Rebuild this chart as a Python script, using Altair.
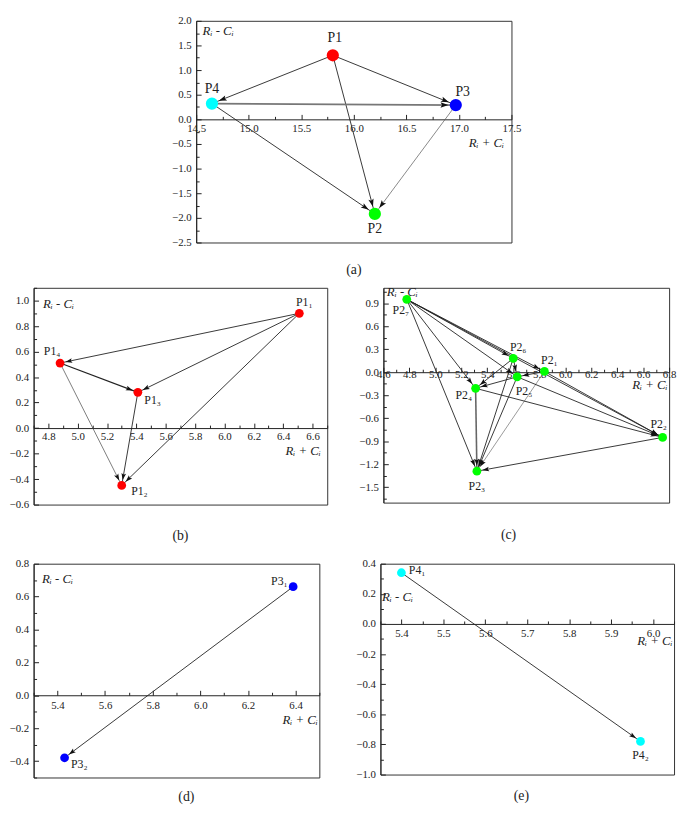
import math
import altair as alt
import pandas as pd

FONT = "Liberation Serif"
INK = "#222222"

# ---------------- data ----------------
# panel (a)
a_names = ["P1", "P2", "P3", "P4"]
a_x = [15.80, 16.20, 16.97, 14.65]
a_y = [1.30, -1.92, 0.29, 0.32]
a_col = ["#ff0000", "#00ff00", "#0000ff", "#00ffff"]
a_dx = [2, 0, 7, 0]
a_dy = [-17, 15, -13, -15]
a_edges = [("P1", "P4"), ("P1", "P3"), ("P1", "P2"), ("P4", "P3"), ("P4", "P2"), ("P3", "P2")]
a_edge_ink = ["#222222", "#222222", "#222222", "#777777", "#222222", "#555555"]
a_edge_w = [0.9, 0.9, 0.9, 1.8, 0.9, 0.7]

# panel (b)
b_names = ["P1₁", "P1₂", "P1₃", "P1₄"]
b_x = [6.51, 5.30, 5.41, 4.88]
b_y = [0.90, -0.45, 0.28, 0.51]
b_col = ["#ff0000"] * 4
b_dx = [5, 18, 15, -8]
b_dy = [-11, 6, 8, -12]
b_edges = [("P1₁", "P1₄"), ("P1₁", "P1₃"), ("P1₁", "P1₂"), ("P1₄", "P1₃"), ("P1₄", "P1₂"), ("P1₃", "P1₂")]
b_edge_ink = ["#222222", "#222222", "#222222", "#222222", "#444444", "#222222"]
b_edge_w = [0.9, 0.9, 0.9, 1.2, 0.7, 0.9]

# panel (c)
c_names = ["P2₁", "P2₂", "P2₃", "P2₄", "P2₅", "P2₆", "P2₇"]
c_x = [5.84, 6.75, 5.32, 5.31, 5.63, 5.60, 4.78]
c_y = [0.01, -0.85, -1.29, -0.21, -0.06, 0.18, 0.95]
c_col = ["#00ff00"] * 7
c_dx = [5, -4, 0, -12, 7, 5, -6]
c_dy = [-12, -14, 15, 7, 14, -11, 11]
c_edges = [("P2₇", "P2₆"), ("P2₇", "P2₁"), ("P2₇", "P2₅"), ("P2₇", "P2₄"), ("P2₇", "P2₃"), ("P2₇", "P2₂"),
           ("P2₆", "P2₅"), ("P2₆", "P2₄"), ("P2₆", "P2₃"),
           ("P2₁", "P2₅"), ("P2₁", "P2₃"), ("P2₁", "P2₂"),
           ("P2₅", "P2₄"), ("P2₅", "P2₃"), ("P2₅", "P2₂"),
           ("P2₄", "P2₃"), ("P2₄", "P2₂"),
           ("P2₂", "P2₃")]
c_edge_ink = ["#222222"] * 10 + ["#555555"] + ["#222222"] * 4 + ["#666666"] + ["#222222"] * 2
c_edge_w = [0.9] * 10 + [0.6] + [0.9] * 4 + [1.6] + [0.9] * 2

# panel (d)
d_names = ["P3₁", "P3₂"]
d_x = [6.39, 5.43]
d_y = [0.66, -0.38]
d_col = ["#0000ff"] * 2
d_dx = [-14, 15]
d_dy = [-6, 6]
d_edges = [("P3₁", "P3₂")]
d_edge_ink = ["#222222"]
d_edge_w = [0.9]

# panel (e)
e_names = ["P4₁", "P4₂"]
e_x = [5.40, 5.97]
e_y = [0.34, -0.78]
e_col = ["#00ffff"] * 2
e_dx = [16, 0]
e_dy = [-3, 14]
e_edges = [("P4₁", "P4₂")]
e_edge_ink = ["#222222"]
e_edge_w = [0.9]

ARROW = "M0,0 L-0.34,1 L0,0.8 L0.34,1 Z"


def ticks(lo, hi, step):
    n = int(round((hi - lo) / step))
    return [round(lo + i * step, 3) for i in range(n + 1)]


def js_list(vals):
    return "[" + ",".join(repr(v) for v in vals) + "]"


def panel(names, xs, ys, cols, dxs, dys, edges, inks, widths, xdom, ydom, W, H,
          xmaj, xminor, ymaj, yminor, r, ahead, ptsize, lblsize,
          xt, yt, caption, cap_dx, cap_off, xlab_pad=-8):
    sx = W / (xdom[1] - xdom[0])
    sy = H / (ydom[1] - ydom[0])
    pos = {n: (x, y) for n, x, y in zip(names, xs, ys)}

    erows, hrows = [], []
    for (s, t), ink, w in zip(edges, inks, widths):
        (x1, y1), (x2, y2) = pos[s], pos[t]
        dxp = (x2 - x1) * sx
        dyp = -(y2 - y1) * sy
        L = math.hypot(dxp, dyp)
        ux, uy = dxp / L, dyp / L
        tipx = x2 - ux * (r + 0.5) / sx
        tipy = y2 + uy * (r + 0.5) / sy
        ang = math.degrees(math.atan2(ux, -uy)) % 360
        erows.append({"x": x1, "y": y1, "x2": x2, "y2": y2, "ink": ink, "w": w})
        hrows.append({"x": tipx, "y": tipy, "angle": ang})
    edf = pd.DataFrame(erows)
    hdf = pd.DataFrame(hrows)
    pdf = pd.DataFrame({"x": xs, "y": ys, "color": cols})
    ldf = pd.DataFrame({"x": [x + dx / sx for x, dx in zip(xs, dxs)],
                        "y": [y - dy / sy for y, dy in zip(ys, dys)],
                        "label": names})

    zero_px = H * (ydom[1] - 0.0) / (ydom[1] - ydom[0])
    xv = sorted(set(xmaj + xminor))
    yv = sorted(set(ymaj + yminor))
    xm, ym = js_list(xmaj), js_list(ymaj)

    common = dict(grid=False, domainColor=INK, tickColor=INK, labelColor=INK,
                  labelFont=FONT, labelFontSize=11, labelOverlap=False, labelFlush=False,
                  titleFont=FONT, titleFontSize=13, titleFontStyle="italic",
                  titleFontWeight="normal", titleColor=INK, titleAngle=0,
                  titleBaseline="middle", tickWidth=1, domainWidth=1)

    xaxis = alt.Axis(orient="top", offset=-zero_px, values=xv,
                     labelExpr=f"indexof({xm}, datum.value) >= 0 ? format(datum.value, '.1f') : ''",
                     tickSize={"condition": {"test": f"indexof({xm}, datum.value) >= 0", "value": 5}, "value": 3},
                     labelBaseline="top", labelPadding=xlab_pad, labelAlign="center",
                     title="Rᵢ + Cᵢ", titleX=xt[0], titleY=xt[1], titleAlign="right",
                     **common)
    yaxis = alt.Axis(orient="right", offset=-W, values=yv,
                     labelExpr=f"indexof({ym}, datum.value) >= 0 ? format(datum.value, '.1f') : ''",
                     tickSize={"condition": {"test": f"indexof({ym}, datum.value) >= 0", "value": 5}, "value": 3},
                     labelAlign="right", labelBaseline="middle", labelPadding=-10,
                     title="Rᵢ - Cᵢ", titleX=yt[0], titleY=yt[1], titleAlign="left",
                     **common)

    X = alt.X("x:Q", scale=alt.Scale(domain=xdom, nice=False, zero=False), axis=xaxis)
    Y = alt.Y("y:Q", scale=alt.Scale(domain=ydom, nice=False, zero=False), axis=yaxis)

    rules = alt.Chart(edf).mark_rule().encode(
        x=X, y=Y, x2="x2:Q", y2="y2:Q",
        color=alt.Color("ink:N", scale=None),
        strokeWidth=alt.StrokeWidth("w:Q", scale=None))
    heads = alt.Chart(hdf).mark_point(shape=ARROW, filled=True, color="#111111", opacity=1,
                                      size=ahead, strokeWidth=0).encode(
        x=X, y=Y, angle=alt.Angle("angle:Q", scale=None))
    pts = alt.Chart(pdf).mark_circle(size=ptsize, opacity=1).encode(
        x=X, y=Y, color=alt.Color("color:N", scale=None))
    lbls = alt.Chart(ldf).mark_text(font=FONT, fontSize=lblsize, color=INK, baseline="middle",
                                    align="center").encode(x=X, y=Y, text="label:N")

    return alt.layer(rules, heads, pts, lbls).properties(
        width=W, height=H,
        title=alt.TitleParams(caption, orient="bottom", frame="group", anchor="middle",
                              font=FONT, fontSize=14, fontWeight="normal", color=INK,
                              dx=cap_dx, offset=cap_off))


pa = panel(a_names, a_x, a_y, a_col, a_dx, a_dy, a_edges, a_edge_ink, a_edge_w,
           [14.5, 17.5], [-2.5, 2.0], 320, 225,
           ticks(14.5, 17.5, 0.5), ticks(14.75, 17.25, 0.5), ticks(-2.5, 2.0, 0.5), ticks(-2.25, 1.75, 0.5),
           7, 256, 154, 14, (312, 24), (6, 10), "(a)", 0, 16)
pb = panel(b_names, b_x, b_y, b_col, b_dx, b_dy, b_edges, b_edge_ink, b_edge_w,
           [4.7, 6.7], [-0.6, 1.1], 298, 220,
           ticks(4.8, 6.6, 0.2), ticks(4.7, 6.7, 0.2), ticks(-0.6, 1.0, 0.2), ticks(-0.5, 1.1, 0.2),
           5, 196, 79, 12, (291, 23), (9, 16), "(b)", 0, 20)
pc = panel(c_names, c_x, c_y, c_col, c_dx, c_dy, c_edges, c_edge_ink, c_edge_w,
           [4.6, 6.8], [-1.7, 1.1], 290, 218,
           ticks(4.6, 6.8, 0.2), ticks(4.7, 6.7, 0.2), ticks(-1.5, 0.9, 0.3), ticks(-1.65, 1.05, 0.3),
           5, 196, 79, 12, (288, 13), (3, 4), "(c)", -18, 25, xlab_pad=-1)
pd_ = panel(d_names, d_x, d_y, d_col, d_dx, d_dy, d_edges, d_edge_ink, d_edge_w,
            [5.3, 6.5], [-0.5, 0.8], 290, 217,
            ticks(5.4, 6.4, 0.2), ticks(5.3, 6.5, 0.2), ticks(-0.4, 0.8, 0.2), ticks(-0.5, 0.7, 0.2),
            5, 196, 79, 12, (288, 25), (8, 15), "(d)", 10, 8, xlab_pad=-9)
pe = panel(e_names, e_x, e_y, e_col, e_dx, e_dy, e_edges, e_edge_ink, e_edge_w,
           [5.35, 6.05], [-1.0, 0.4], 298, 214,
           ticks(5.4, 6.0, 0.1), ticks(5.35, 6.05, 0.1), ticks(-1.0, 0.4, 0.2), ticks(-0.9, 0.3, 0.2),
           5, 196, 79, 12, (296, 17), (1, 33), "(e)", -6, 10, xlab_pad=-9)


def spacer(w):
    return alt.Chart(pd.DataFrame({"x": [0]})).mark_point(opacity=0).properties(
        width=w, height=10, view=alt.ViewBackground(strokeOpacity=0))


row1 = alt.hconcat(spacer(139), pa, spacing=0)
row2 = alt.hconcat(pb, pc, spacing=30)
row3 = alt.hconcat(pd_, pe, spacing=35)
lower = alt.vconcat(row2, row3, spacing=13)

chart = alt.vconcat(row1, lower, spacing=3).properties(
    padding={"left": 0, "top": 0, "right": 0, "bottom": 0}).configure_view(
    stroke="#333333", strokeWidth=1)

chart.save("out.html", embed_options={"renderer": "svg", "actions": False})
